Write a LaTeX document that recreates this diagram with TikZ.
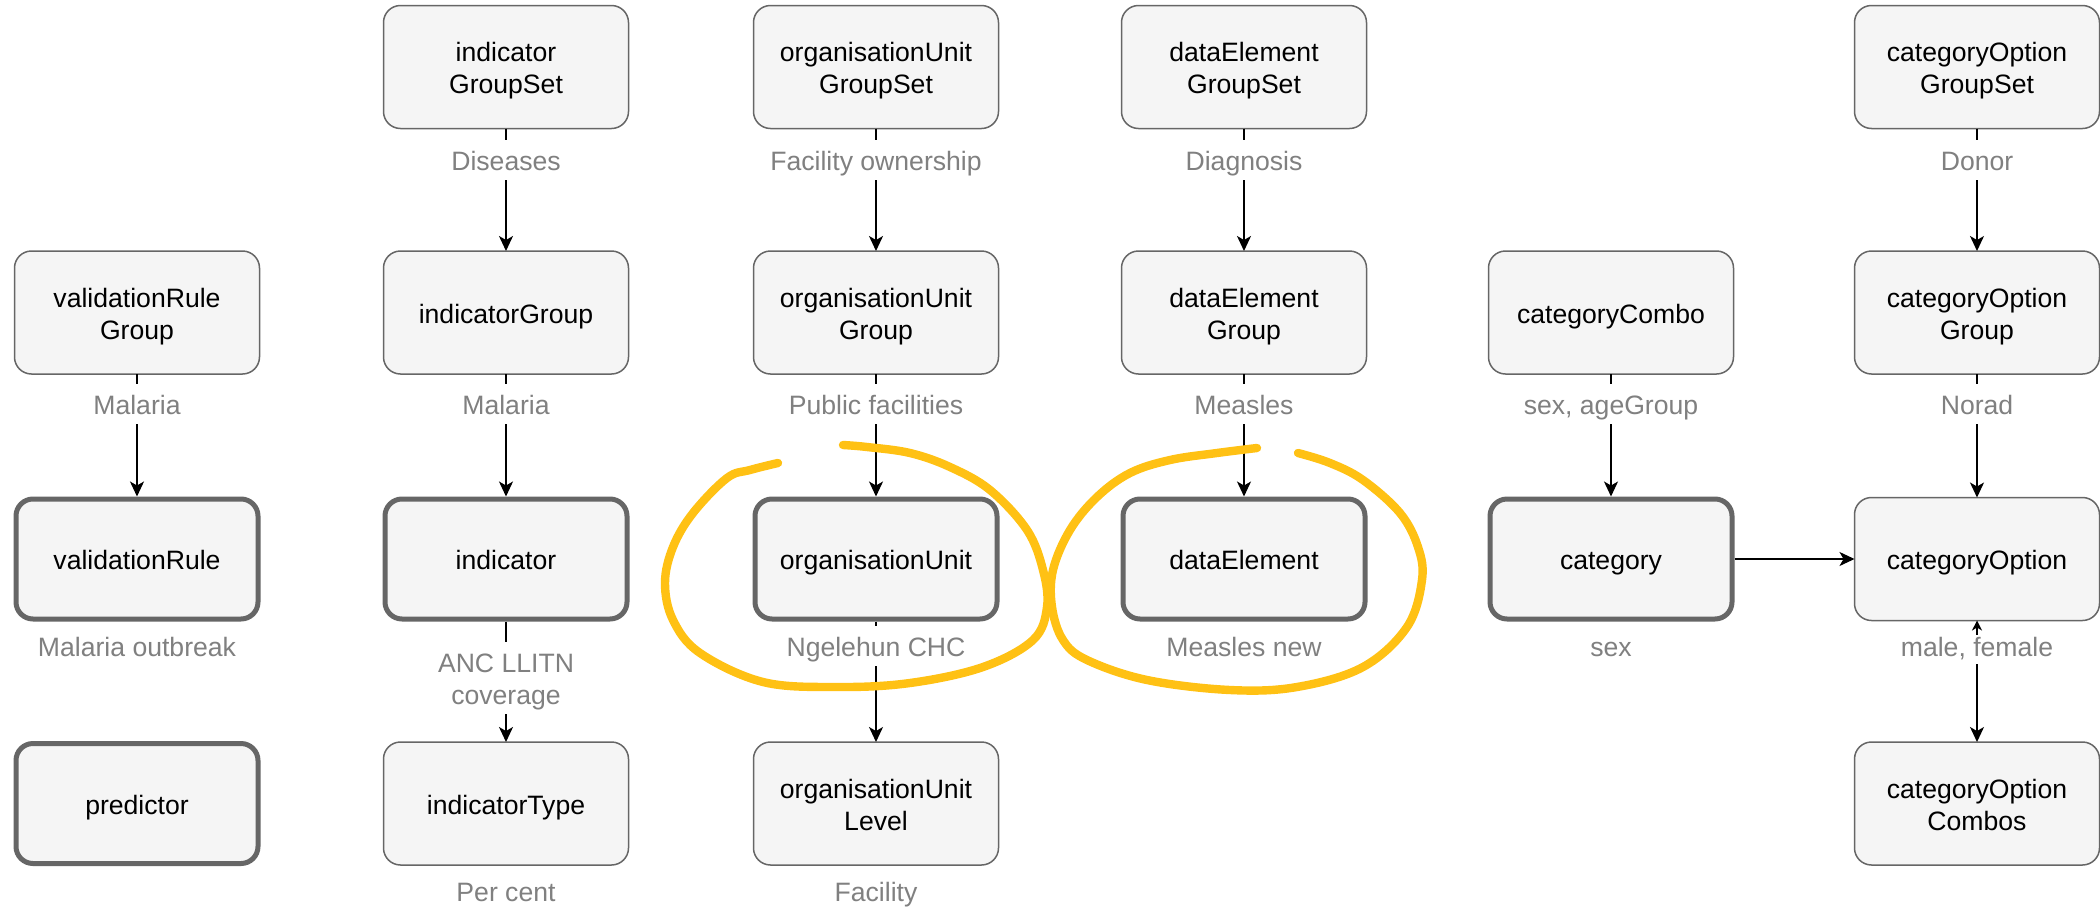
\documentclass[tikz,border=0pt]{standalone}
\usepackage{fontspec}
\setmainfont{Liberation Sans}
\usetikzlibrary{arrows.meta}

\definecolor{boxfill}{HTML}{F5F5F5}
\definecolor{boxline}{HTML}{666666}
\definecolor{labelgray}{HTML}{808080}
\definecolor{marker}{HTML}{FFC114}

% every text line sits in a 1.2em line box
\newcommand{\boxfont}{\fontsize{13.3}{15.96}\selectfont}
\newcommand{\linestrut}{\rule[-2.59pt]{0pt}{15.96pt}}
\newcommand{\twolines}[2]{\linestrut#1\\#2}

\tikzset{
  linebox/.style={execute at begin node=\linestrut, execute at end node=\linestrut},
  box/.style={draw=boxline, fill=boxfill, rounded corners=8.5pt, line width=0.75pt,
    minimum width=122.5pt, minimum height=61.5pt, align=center,
    inner sep=0pt, outer sep=0pt, font=\boxfont, linebox},
  keybox/.style={box, line width=2.5pt, minimum width=121pt, minimum height=60pt, outer sep=1.25pt},
  arr/.style={draw=black, line width=0.75pt, -{Stealth[length=7.5pt,width=7pt,inset=2pt]}},
  biarr/.style={draw=black, line width=0.75pt,
    {Stealth[length=5pt,width=5pt,inset=1.5pt]}-{Stealth[length=7.5pt,width=7pt,inset=2pt]}},
  lbl/.style={fill=white, text=labelgray, inner xsep=2pt, inner ysep=2pt,
    align=center, font=\boxfont, linebox},
  lbltight/.style={fill=white, text=labelgray, inner xsep=2pt, inner ysep=1pt,
    font=\boxfont, text height=10pt, text depth=2.59pt, anchor=base},
  highlight/.style={draw=marker, line width=4.2pt, line cap=round, line join=round}
}

\begin{document}
\begin{tikzpicture}[x=0.5pt, y=-0.5pt]
\useasboundingbox (0,0) rectangle (2100,911);

% ---- row 1: group sets
\node[box] (igs)  at (506,67)  {\twolines{indicator}{GroupSet}};
\node[box] (ougs) at (876,67)  {\twolines{organisationUnit}{GroupSet}};
\node[box] (degs) at (1244,67) {\twolines{dataElement}{GroupSet}};
\node[box] (cogs) at (1977,67) {\twolines{categoryOption}{GroupSet}};

% ---- row 2: groups
\node[box] (vrg) at (137,312.5)  {\twolines{validationRule}{Group}};
\node[box] (ig)  at (506,312.5)  {indicatorGroup};
\node[box] (oug) at (876,312.5)  {\twolines{organisationUnit}{Group}};
\node[box] (deg) at (1244,312.5) {\twolines{dataElement}{Group}};
\node[box] (cc)  at (1611,312.5) {categoryCombo};
\node[box] (cog) at (1977,312.5) {\twolines{categoryOption}{Group}};

% ---- row 3: core objects
\node[keybox] (vr)  at (137,559)  {validationRule};
\node[keybox] (ind) at (506,559)  {indicator};
\node[keybox] (ou)  at (876,559)  {organisationUnit};
\node[keybox] (de)  at (1244,559) {dataElement};
\node[keybox] (cat) at (1611,559) {category};
\node[box]    (co)  at (1977,559) {categoryOption};

% ---- row 4
\node[keybox] (pred) at (137,803.5)  {predictor};
\node[box]    (it)   at (506,803.5)  {indicatorType};
\node[box]    (oul)  at (876,803.5)  {\twolines{organisationUnit}{Level}};
\node[box]    (coc)  at (1977,803.5) {\twolines{categoryOption}{Combos}};

% ---- connectors
\draw[arr] (igs)  -- (ig);
\draw[arr] (ougs) -- (oug);
\draw[arr] (degs) -- (deg);
\draw[arr] (cogs) -- (cog);

\draw[arr] (vrg) -- (vr);
\draw[arr] (ig)  -- (ind);
\draw[arr] (oug) -- (ou);
\draw[arr] (deg) -- (de);
\draw[arr] (cc)  -- (cat);
\draw[arr] (cog) -- (co);

\draw[arr] (ind) -- (it);
\draw[arr] (ou)  -- (oul);
\draw[arr] (cat) -- (co);
\draw[biarr] (co) -- (coc);

% ---- example values
\node[lbl] (l-igs)  at (506,160)  {Diseases};
\node[lbl] (l-ougs) at (876,160)  {Facility ownership};
\node[lbl] (l-degs) at (1244,160) {Diagnosis};
\node[lbl] (l-cogs) at (1977,160) {Donor};

\node[lbl] (l-vrg) at (137,404)  {Malaria};
\node[lbl] (l-ig)  at (506,404)  {Malaria};
\node[lbl] (l-oug) at (876,404)  {Public facilities};
\node[lbl] (l-deg) at (1244,404) {Measles};
\node[lbl] (l-cc)  at (1611,404) {sex, ageGroup};
\node[lbl] (l-cog) at (1977,404) {Norad};

\node[lbl] (l-vr)  at (137,646)  {Malaria outbreak};
\node[lbl] (l-ind) at (506,678)  {\twolines{ANC LLITN}{coverage}};
\node[lbl] (l-ou)  at (876,646)  {Ngelehun CHC};
\node[lbl] (l-de)  at (1244,646) {Measles new};
\node[lbl] (l-cat) at (1611,646) {sex};
\node[lbltight] (l-co) at (1977,656.75) {male, female};

\node[lbl] (l-it)  at (506,891) {Per cent};
\node[lbl] (l-oul) at (876,891) {Facility};

% ---- hand-drawn highlight loops
\draw[highlight] plot[smooth, tension=0.6] coordinates {
  (778,463) (750,470) (727,478) (693,513) (673,547) (665,583) (673,620)
  (700,653) (763,682) (837,687) (910,683) (983,667) (1033,640) (1047,607)
  (1043,570) (1027,530) (990,490) (950,467) (910,453) (867,447) (843,445)};
\draw[highlight] plot[smooth, tension=0.6] coordinates {
  (1257,448) (1217,453) (1170,460) (1130,473) (1097,497) (1070,530)
  (1053,570) (1052,607) (1063,640) (1087,660) (1147,680) (1230,690)
  (1297,687) (1363,667) (1407,627) (1422,580) (1418,547) (1400,513)
  (1363,480) (1330,463) (1298,453)};
\end{tikzpicture}
\end{document}
